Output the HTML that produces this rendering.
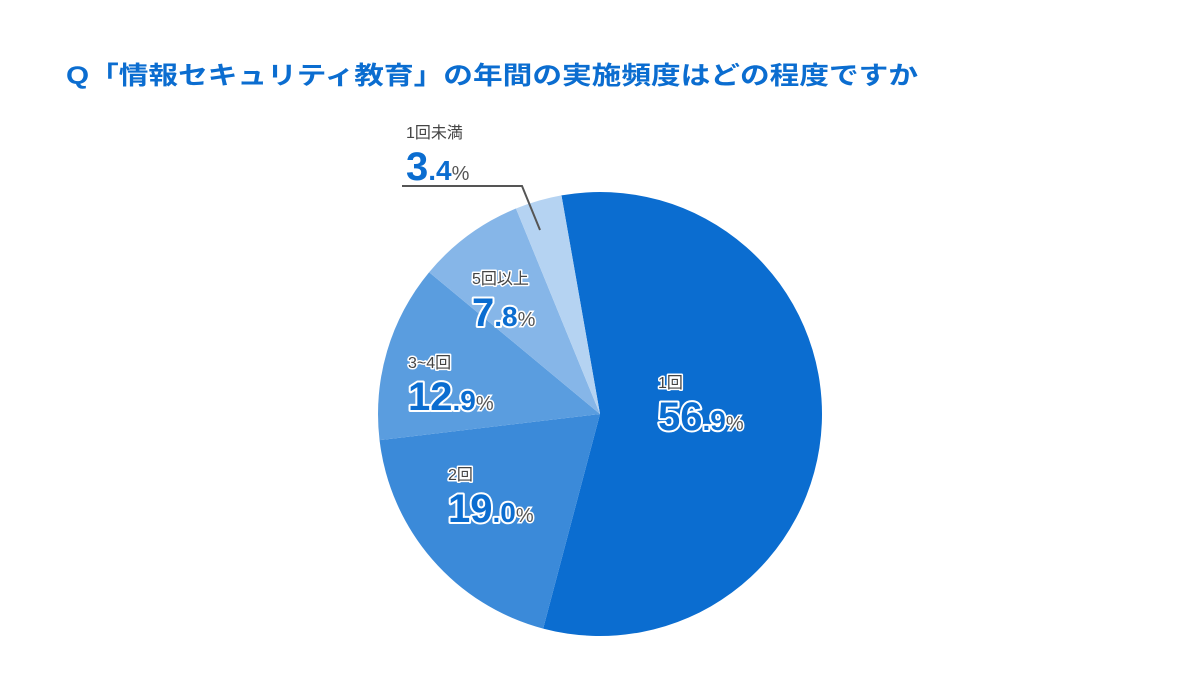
<!DOCTYPE html>
<html><head><meta charset="utf-8"><style>
html,body{margin:0;padding:0;background:#fff;}
svg{display:block;font-family:"Liberation Sans","Noto Sans CJK JP",sans-serif;}
.lab{font-size:16px;fill:#444;stroke:#fff;stroke-width:3px;paint-order:stroke;stroke-linejoin:round;}
.num{font-weight:bold;fill:#0b6dd0;stroke:#fff;stroke-width:4px;paint-order:stroke;stroke-linejoin:round;}
.pct{font-size:20px;fill:#555;stroke:#fff;stroke-width:3px;paint-order:stroke;}
</style></head><body>
<svg id="chart" width="1200" height="675" viewBox="0 0 1200 675">
<text x="66" y="84" font-size="25" font-weight="bold" fill="#0b6dd0" textLength="852" lengthAdjust="spacingAndGlyphs">Q「情報セキュリティ教育」の年間の実施頻度はどの程度ですか</text>
<g id="slices"></g>
<polyline points="402,186 522,186 540,230" fill="none" stroke="#555" stroke-width="2"/>
<g id="labels"></g>
</svg>
<script>
const categories = ["1回","2回","3~4回","5回以上","1回未満"];
const values = [56.9, 19.0, 12.9, 7.8, 3.4];
const colors = ["#0b6dd0","#3b8ad9","#5a9ddf","#86b6e8","#b5d3f2"];
const labelPos = [[658,388],[448,480],[408,368],[472,284],[406,138]];
const cx=600, cy=414, r=222, startDeg=-10;
const total = values.reduce((a,b)=>a+b,0);
const NS="http://www.w3.org/2000/svg";
function pt(deg){const a=deg*Math.PI/180;return [cx+r*Math.sin(a), cy-r*Math.cos(a)];}
const g=document.getElementById('slices');
let a0=startDeg;
values.forEach((v,i)=>{
  const a1=a0+v/total*360;
  const p0=pt(a0),p1=pt(a1);
  const large=(a1-a0)>180?1:0;
  const p=document.createElementNS(NS,'path');
  p.setAttribute('d',`M${cx},${cy} L${p0[0]},${p0[1]} A${r},${r} 0 ${large} 1 ${p1[0]},${p1[1]} Z`);
  p.setAttribute('fill',colors[i]);
  
  
  g.appendChild(p);
  a0=a1;
});
const lg=document.getElementById('labels');
values.forEach((v,i)=>{
  const [x,y]=labelPos[i];
  const t=document.createElementNS(NS,'text');
  t.setAttribute('x',x);t.setAttribute('y',y);t.setAttribute('class','lab');
  t.textContent=categories[i];
  
  
  lg.appendChild(t);
  const s=v.toFixed(1).split('.');
  const n=document.createElementNS(NS,'text');
  n.setAttribute('x',x);n.setAttribute('y',y+42);
  
  
  n.innerHTML=`<tspan class="num" font-size="40">${s[0]}</tspan><tspan class="num" font-size="28">.${s[1]}</tspan><tspan class="pct">%</tspan>`;
  lg.appendChild(n);
});
</script>
</body></html>
